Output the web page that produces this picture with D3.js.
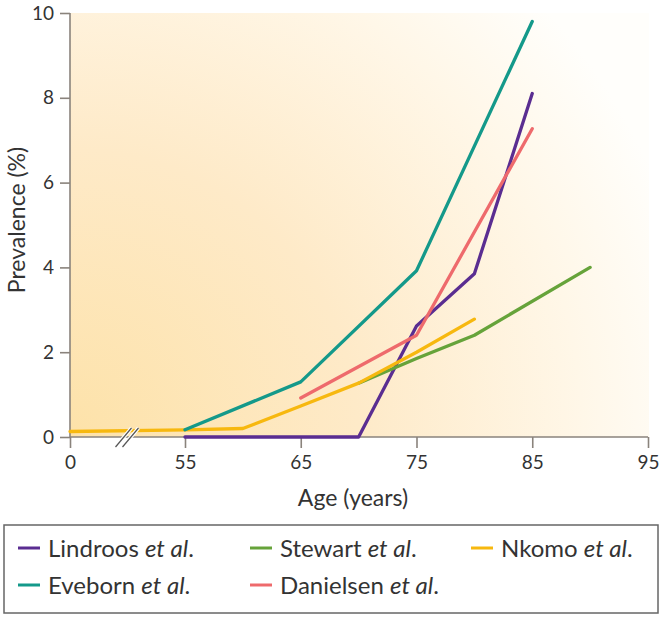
<!DOCTYPE html>
<html><head><meta charset="utf-8">
<script src="https://cdn.jsdelivr.net/npm/d3@7"></script>
<style>body{margin:0;background:#fff}svg{display:block}text{font-family:Lato,"Open Sans",sans-serif;fill:#333}</style>
</head><body>
<script>
const xTicks = [0, 55, 65, 75, 85, 95];
const yTicks = [0, 2, 4, 6, 8, 10];
const seriesNames = ["Lindroos", "Stewart", "Nkomo", "Eveborn", "Danielsen"];
const seriesColors = ["#5a2d91", "#66a33a", "#f7b80f", "#14998a", "#ee6a6c"];
const lindroos = [[55,0],[65,0],[70,0],[75,2.62],[80,3.85],[85,8.1]];
const stewart = [[70,1.27],[75,1.85],[80,2.4],[90,4.0]];
const nkomo = [[0,0.13],[55,0.17],[60,0.2],[65,0.73],[70,1.27],[75,2.0],[80,2.78]];
const eveborn = [[55,0.17],[65,1.3],[75,3.92],[85,9.8]];
const danielsen = [[65,0.92],[75,2.4],[85,7.27]];
const seriesData = [lindroos, stewart, nkomo, eveborn, danielsen];

const W = 663, H = 618;
const svg = d3.select("body").append("svg").attr("width", W).attr("height", H);
const x = d3.scaleLinear().domain([0, 55, 95]).range([70, 185, 648]);
const y = d3.scaleLinear().domain([0, 10]).range([437, 13]);

const defs = svg.append("defs");
const rg = defs.append("radialGradient").attr("id","bg").attr("gradientUnits","userSpaceOnUse")
  .attr("cx", 70).attr("cy", 437).attr("r", 640);
rg.append("stop").attr("offset","0").attr("stop-color","#fde2a9");
rg.append("stop").attr("offset","0.45").attr("stop-color","#feeac8");
rg.append("stop").attr("offset","0.8").attr("stop-color","#fff7e8");
rg.append("stop").attr("offset","1").attr("stop-color","#fffefb");
svg.append("rect").attr("x", 70).attr("y", 13).attr("width", 579).attr("height", 424).attr("fill","url(#bg)");

// axes
const axisColor = "#8a837c";
const gy = svg.append("g").attr("transform","translate(70,0)")
  .call(d3.axisLeft(y).tickValues(yTicks).tickSize(10).tickPadding(6).tickFormat(d3.format("d")));
const gx = svg.append("g").attr("transform","translate(0,437)")
  .call(d3.axisBottom(x).tickValues(xTicks).tickSize(11).tickPadding(8).tickFormat(d3.format("d")));
[gx, gy].forEach(g => {
  g.select(".domain").attr("stroke", axisColor).attr("stroke-width", 1.6);
  g.selectAll(".tick line").attr("stroke", axisColor).attr("stroke-width", 1.6);
  g.selectAll(".tick text").style("font-size","19px").attr("fill","#333");
});
gx.select(".domain").attr("d", `M${x(0)},0H${x(95)}`);
gy.select(".domain").attr("d", `M0,${y(0)}V${y(10)}`);

// lines
const line = d3.line().x(d => x(d[0])).y(d => y(d[1]));
seriesData.forEach((s, i) => {
  svg.append("path").datum(s).attr("d", line).attr("fill","none")
    .attr("stroke", seriesColors[i]).attr("stroke-width", 3.3)
    .attr("stroke-linejoin","round").attr("stroke-linecap","round");
});

// axis break
const bx = 127, by = y(0);
[-3.5, 3.5].forEach(o => {
  svg.append("line").attr("x1", bx + o - 8).attr("y1", by + 10).attr("x2", bx + o + 8).attr("y2", by - 9)
    .attr("stroke","#fff").attr("stroke-width", 3.5);
});
[-3.5, 3.5].forEach(o => {
  svg.append("line").attr("x1", bx + o - 8).attr("y1", by + 10).attr("x2", bx + o + 8).attr("y2", by - 9)
    .attr("stroke","#555").attr("stroke-width", 1.2);
});

// axis titles
svg.append("text").attr("x", 353).attr("y", 506).attr("text-anchor","middle").style("font-size","23px").text("Age (years)");
svg.append("text").attr("transform","translate(25,220) rotate(-90)").attr("text-anchor","middle").style("font-size","23px").text("Prevalence (%)");

// legend
svg.append("rect").attr("x", 4).attr("y", 525).attr("width", 654).attr("height", 88)
  .attr("fill","#fff").attr("stroke","#666").attr("stroke-width", 1.5);
const legPos = [[18,557],[250,557],[471,557],[18,594],[250,594]];
seriesNames.forEach((n, i) => {
  const [lx, ly] = legPos[i];
  svg.append("line").attr("x1", lx).attr("x2", lx + 22).attr("y1", ly - 9).attr("y2", ly - 9)
    .attr("stroke", seriesColors[i]).attr("stroke-width", 3);
  const t = svg.append("text").attr("x", lx + 30).attr("y", ly).style("font-size","24px");
  t.append("tspan").text(n + " ");
  t.append("tspan").style("font-style","italic").text("et al");
  t.append("tspan").text(".");
});
</script>
</body></html>
